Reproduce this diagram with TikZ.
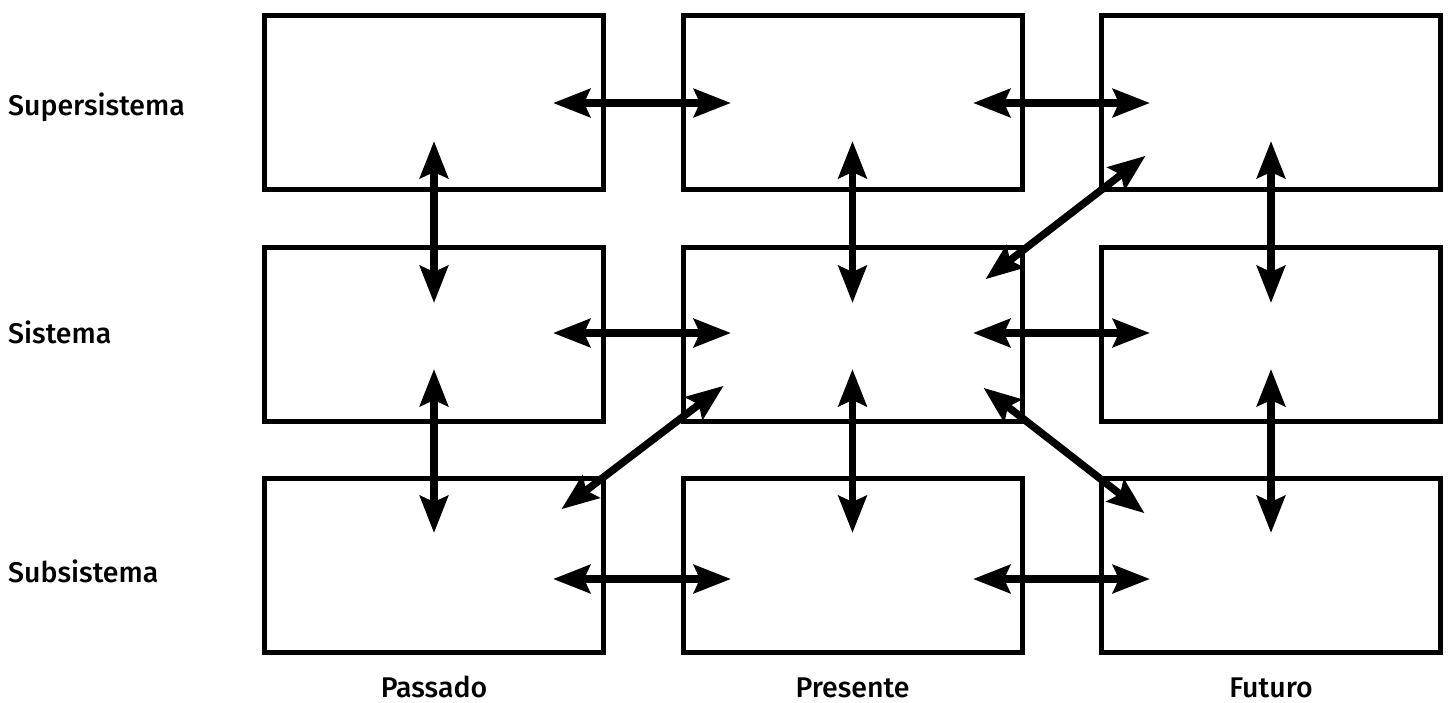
\documentclass[tikz,border=0pt]{standalone}
\usepackage{fontspec}
\setmainfont{Fira Sans Medium}
\usetikzlibrary{arrows.meta}
\begin{document}
\begin{tikzpicture}[x=1pt,y=-1pt,
  box/.style={draw, line width=5pt, minimum width=339pt, minimum height=174pt, inner sep=0pt},
  link/.style={line width=7.5pt, {Stealth[length=37pt,width=28pt,inset=6pt]}-{Stealth[length=37pt,width=28pt,inset=6pt]}, shorten <=-2pt, shorten >=-2pt},
  lbl/.style={font=\fontsize{28.5}{32}\selectfont, inner sep=0pt}]
\useasboundingbox (0,0) rectangle (1453,702);
% grid of boxes: rows = level, columns = time
\foreach \c/\x in {1/434,2/852.5,3/1271}
  \foreach \r/\y in {1/102,2/334,3/565}
    \node[box] (b\r\c) at (\x,\y) {};
% row labels
\node[lbl, anchor=base west] (l1) at (8,115) {Supersistema};
\node[lbl, anchor=base west] (l2) at (8,343) {Sistema};
\node[lbl, anchor=base west] (l3) at (8,582) {Subsistema};
% column labels
\node[lbl, anchor=base] (t1) at (434,697) {Passado};
\node[lbl, anchor=base] (t2) at (852.5,697) {Presente};
\node[lbl, anchor=base] (t3) at (1271,697) {Futuro};
% arrow end points
\foreach \c/\x in {1/434,2/852.5,3/1271}{
  \coordinate (v\c a) at (\x,143);
  \coordinate (v\c b) at (\x,301);
  \coordinate (v\c c) at (\x,371);
  \coordinate (v\c d) at (\x,531);
}
\foreach \r/\y in {1/103,2/333,3/579}{
  \coordinate (h\r a) at (555,\y);
  \coordinate (h\r b) at (729,\y);
  \coordinate (h\r c) at (975,\y);
  \coordinate (h\r d) at (1148,\y);
}
\coordinate (d1a) at (563,508);
\coordinate (d1b) at (722,387);
\coordinate (d2a) at (987,278);
\coordinate (d2b) at (1144,157);
\coordinate (d3a) at (985,389);
\coordinate (d3b) at (1143,512);
% vertical links
\foreach \c in {1,2,3}{
  \draw[link] (v\c a) -- (v\c b);
  \draw[link] (v\c c) -- (v\c d);
}
% horizontal links
\foreach \r in {1,2,3}{
  \draw[link] (h\r a) -- (h\r b);
  \draw[link] (h\r c) -- (h\r d);
}
% diagonal links
\draw[link] (d1a) -- (d1b);
\draw[link] (d2a) -- (d2b);
\draw[link] (d3a) -- (d3b);
\end{tikzpicture}
\end{document}
